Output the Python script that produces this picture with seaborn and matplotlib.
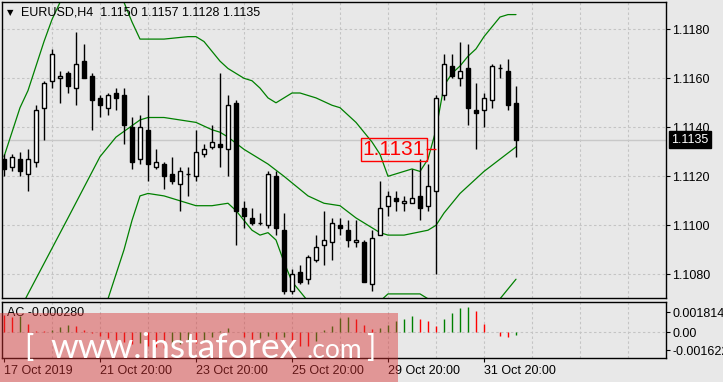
import numpy as np
import matplotlib
matplotlib.use("Agg")
import matplotlib.pyplot as plt
import matplotlib.transforms as mtransforms
from matplotlib.patches import Rectangle
import seaborn as sns

# ---------------- data ----------------
symbol = "EURUSD,H4"
opens = [1.1127, 1.1124, 1.1127, 1.1121, 1.1126, 1.1148, 1.1159, 1.1160, 1.1162, 1.1156,
         1.1167, 1.1161, 1.1152, 1.1148, 1.1154, 1.1153, 1.1140, 1.1127, 1.1139, 1.1124,
         1.1125, 1.1121, 1.1117, 1.1121, 1.1120, 1.1129, 1.1132, 1.1133, 1.1131, 1.1150,
         1.1107, 1.1103, 1.1101, 1.1100, 1.1120, 1.1098, 1.1073, 1.1081, 1.1078, 1.1086,
         1.1092, 1.1093, 1.1100, 1.1098, 1.1093, 1.1093, 1.1076, 1.1096, 1.1108, 1.1111,
         1.1109, 1.1109, 1.1112, 1.1108, 1.1114, 1.1153, 1.1165, 1.1160, 1.1164, 1.1147,
         1.1147, 1.1151, 1.1164, 1.1163, 1.1150]
highs = [1.1129, 1.1129, 1.1130, 1.1131, 1.1149, 1.1159, 1.1172, 1.1163, 1.1163, 1.1179,
         1.1174, 1.1162, 1.1153, 1.1154, 1.1156, 1.1156, 1.1144, 1.1145, 1.1153, 1.1131,
         1.1126, 1.1128, 1.1124, 1.1124, 1.1139, 1.1133, 1.1141, 1.1162, 1.1153, 1.1151,
         1.1110, 1.1107, 1.1105, 1.1122, 1.1122, 1.1105, 1.1082, 1.1084, 1.1088, 1.1096,
         1.1106, 1.1103, 1.1103, 1.1102, 1.1102, 1.1094, 1.1098, 1.1118, 1.1114, 1.1114,
         1.1112, 1.1123, 1.1127, 1.1125, 1.1153, 1.1170, 1.1170, 1.1175, 1.1174, 1.1158,
         1.1154, 1.1166, 1.1166, 1.1168, 1.1157]
lows = [1.1120, 1.1122, 1.1120, 1.1114, 1.1124, 1.1135, 1.1156, 1.1150, 1.1154, 1.1149,
        1.1160, 1.1139, 1.1144, 1.1145, 1.1147, 1.1133, 1.1123, 1.1125, 1.1118, 1.1123,
        1.1115, 1.1117, 1.1106, 1.1112, 1.1118, 1.1128, 1.1131, 1.1124, 1.1120, 1.1092,
        1.1099, 1.1100, 1.1100, 1.1099, 1.1096, 1.1072, 1.1072, 1.1076, 1.1076, 1.1085,
        1.1084, 1.1086, 1.1096, 1.1091, 1.1091, 1.1077, 1.1073, 1.1096, 1.1104, 1.1106,
        1.1106, 1.1109, 1.1102, 1.1106, 1.1080, 1.1151, 1.1160, 1.1157, 1.1141, 1.1131,
        1.1140, 1.1148, 1.1160, 1.1147, 1.1128]
closes = [1.1123, 1.1128, 1.1122, 1.1127, 1.1147, 1.1158, 1.1170, 1.1161, 1.1157, 1.1166,
          1.1160, 1.1151, 1.1149, 1.1153, 1.1152, 1.1141, 1.1126, 1.1140, 1.1125, 1.1126,
          1.1120, 1.1118, 1.1122, 1.1121, 1.1130, 1.1131, 1.1134, 1.1132, 1.1149, 1.1106,
          1.1104, 1.1101, 1.1101, 1.1121, 1.1099, 1.1073, 1.1080, 1.1077, 1.1087, 1.1091,
          1.1094, 1.1101, 1.1099, 1.1094, 1.1094, 1.1077, 1.1095, 1.1107, 1.1112, 1.1110,
          1.1110, 1.1111, 1.1107, 1.1116, 1.1152, 1.1166, 1.1161, 1.1163, 1.1148, 1.1146,
          1.1152, 1.1165, 1.1164, 1.1149, 1.1135]

upper_bar = [0, 1, 2, 3, 4, 5, 6, 7, 8, 10, 12, 14, 15, 16, 17, 20, 23, 24, 25, 26, 27, 28,
             29, 30, 31, 32, 33, 34, 35, 36, 37, 38, 39, 41, 42, 43, 44, 45, 46, 47, 48, 49,
             50, 51, 52, 53, 54, 55, 56, 57, 58, 59, 60, 61, 62, 63, 64]
upper_val = [1.1128, 1.1138, 1.1148, 1.1155, 1.1165, 1.1175, 1.1184, 1.1191, 1.1197, 1.1203,
             1.1201, 1.1196, 1.1191, 1.1183, 1.1176, 1.1176, 1.1177, 1.1177, 1.1175, 1.1171,
             1.1167, 1.1164, 1.1162, 1.1160, 1.1159, 1.1156, 1.1152, 1.1150, 1.1152, 1.1154,
             1.1154, 1.1153, 1.1152, 1.1149, 1.1148, 1.1145, 1.1142, 1.1138, 1.1134, 1.1129,
             1.1120, 1.1121, 1.1122, 1.1123, 1.1122, 1.1127, 1.1139, 1.1157, 1.1162, 1.1165,
             1.1169, 1.1172, 1.1177, 1.1181, 1.1185, 1.1186, 1.1186]
middle_bar = [0, 3, 8, 12, 13, 14, 17, 18, 20, 22, 24, 26, 27, 28, 30, 31, 33, 35, 38, 40,
              42, 44, 47, 48, 50, 53, 54, 55, 57, 60, 62, 64]
middle_val = [1.1053, 1.1072, 1.1103, 1.1128, 1.1132, 1.1136, 1.1143, 1.1144, 1.1144, 1.1143,
              1.1142, 1.1139, 1.1138, 1.1136, 1.1131, 1.1129, 1.1125, 1.1120, 1.1112, 1.1109,
              1.1108, 1.1103, 1.1097, 1.1096, 1.1096, 1.1098, 1.1100, 1.1105, 1.1113, 1.1122,
              1.1127, 1.1132]
lower_bar = [0, 5, 10, 13, 15, 16, 17, 18, 20, 22, 24, 26, 28, 29, 30, 31, 32, 33, 34, 35,
             36, 37, 38, 42, 47, 48, 50, 52, 53, 57, 60, 62, 64]
lower_val = [1.0985, 1.1000, 1.1040, 1.1070, 1.1090, 1.1102, 1.1112, 1.1113, 1.1112, 1.1110,
             1.1108, 1.1108, 1.1109, 1.1106, 1.1102, 1.1098, 1.1096, 1.1097, 1.1094, 1.1085,
             1.1077, 1.1073, 1.1069, 1.1060, 1.1069, 1.1072, 1.1072, 1.1072, 1.1070, 1.1056,
             1.1062, 1.1070, 1.1078]

ac_values = [0.00160, 0.00140, 0.00150, 0.00075, 0.00015, 0.00010, 0.00024, 0.00045, 0.00063, 0.00054,
             0.00024, -0.00010, -0.00030, -0.00050, -0.00070, -0.00090, -0.00110, -0.00100, -0.00120, -0.00135,
             -0.00140, -0.00125, -0.00105, -0.00090, -0.00100, -0.00075, -0.00045, 0.00015, 0.00040, 0.00005,
             -0.00040, -0.00060, -0.00050, -0.00035, -0.00060, -0.00045, -0.00070, -0.00120, -0.00125, -0.00080,
             0.00018, 0.00060, 0.00130, 0.00139, 0.00121, 0.00070, 0.00030, 0.00039, 0.00070, 0.00100,
             0.00121, 0.00145, 0.00121, 0.00100, 0.00060, 0.00121, 0.00178, 0.00223, 0.00232, 0.00193,
             0.00078, 0.00003, -0.00031, -0.00040, -0.00028]
ac_current = -0.000280

date_label_bars = [0, 12, 24, 36, 48, 60]
date_labels = ["17 Oct 2019", "21 Oct 20:00", "23 Oct 20:00", "25 Oct 20:00",
               "29 Oct 20:00", "31 Oct 20:00"]
price_ticks = [1.1080, 1.1100, 1.1120, 1.1140, 1.1160, 1.1180]
ac_ticks = [0.001814, 0.0, -0.001622]
ac_tick_labels = ["0.001814", "0.00", "-0.001622"]
marked_level = 1.1131
marked_bar = 54
watermark_main = "www.instaforex"
watermark_tail = ".com"

# ---------------- style ----------------
BG = "#E8E8E8"
GRID = "#C4C4C4"
GREEN = "#008000"
RED = "#FF0000"
sns.set_theme(style="white")
plt.rcParams["font.family"] = ["Liberation Sans", "DejaVu Sans"]
plt.rcParams["axes.linewidth"] = 1.0

W, H = 723, 382
fig = plt.figure(figsize=(W / 100, H / 100), dpi=100, facecolor=BG)

def fx(px):
    return px / W

def fy(py):
    return 1 - py / H

ax = fig.add_axes([fx(2), fy(298), (666 - 2) / W, (298 - 2) / H], facecolor=BG)
ax2 = fig.add_axes([fx(2), fy(358.3), (666 - 2) / W, (358.3 - 302.3) / H], facecolor=BG)

n = len(closes)
bars = np.arange(n)
o = np.array(opens); h = np.array(highs); l = np.array(lows); c = np.array(closes)
xlim = (-0.25, 82.75)

# grids
dash = (0, (2.2, 2.2))
day_lines = np.arange(6, 83, 6)
for a in (ax, ax2):
    for xv in day_lines:
        a.axvline(xv, color=GRID, lw=0.8, ls=dash, zorder=0)
for p in price_ticks:
    ax.axhline(p, color=GRID, lw=0.8, ls=dash, zorder=0)
ax2.axhline(0, color=GRID, lw=0.8, ls=dash, zorder=0)

# current price line
ax.axhline(c[-1], color="#C8C8C8", lw=1.0, zorder=1)

# Bollinger bands
sns.lineplot(x=upper_bar, y=upper_val, ax=ax, color=GREEN, lw=0.9, zorder=2)
sns.lineplot(x=middle_bar, y=middle_val, ax=ax, color=GREEN, lw=0.9, zorder=2)
sns.lineplot(x=lower_bar, y=lower_val, ax=ax, color=GREEN, lw=0.9, zorder=2)

# candles
ax.vlines(bars, l, h, color="black", lw=1.0, zorder=3)
bottoms = np.minimum(o, c)
heights = np.abs(c - o)
fills = ["white" if cc >= oo else "black" for oo, cc in zip(o, c)]
ax.bar(bars, heights, bottom=bottoms, width=0.5, color=fills, edgecolor="black",
       linewidth=1.0, zorder=4)

# marked level label
ax.text(48.75, marked_level, f"{marked_level:.4f}", ha="center", va="center",
        color=RED, fontsize=15, zorder=6,
        bbox=dict(facecolor="none", edgecolor=RED, linewidth=1.0, pad=1.6))
ax.hlines(marked_level, 52.7, marked_bar, color=RED, lw=1.0, zorder=6)

ax.set_xlim(*xlim)
ax.set_ylim(1.107033, 1.119114)
ax.set_xticks([])
ax.yaxis.tick_right()
ax.set_yticks(price_ticks)
ax.set_yticklabels([f"{p:.4f}" for p in price_ticks])
ax.tick_params(axis="y", right=True, length=3, width=0.8, pad=1.5, labelsize=9,
               colors="black")
for s in ax.spines.values():
    s.set_color("black")

# current price tag
trans = mtransforms.blended_transform_factory(ax.transAxes, ax.transData)
ax.text((671 - 2) / 664, c[-1], f"{c[-1]:.4f}", transform=trans, ha="left", va="center",
        color="white", fontsize=9, zorder=10, clip_on=False,
        bbox=dict(facecolor="black", edgecolor="black", pad=1.6))

# title
ax.text((10.5 - 2) / 664, 1 - (13 - 2) / 296, "\u25BC", transform=ax.transAxes,
        ha="center", va="center", fontsize=6, color="black", family="DejaVu Sans")
ax.text((21 - 2) / 664, 1 - (12.5 - 2) / 296,
        f"{symbol}  {o[-1]:.4f} {h[-1]:.4f} {l[-1]:.4f} {c[-1]:.4f}",
        transform=ax.transAxes, ha="left", va="center", fontsize=9, color="black")

# AC oscillator
ac = np.array(ac_values)
ac_colors = [RED] + [GREEN if ac[i] > ac[i - 1] else RED for i in range(1, n)]
ax2.vlines(bars, 0, ac, colors=ac_colors, lw=1.0, zorder=3)
ax2.set_xlim(*xlim)
ax2.set_ylim(-0.00236, 0.00272)
ax2.yaxis.tick_right()
ax2.set_yticks(ac_ticks)
ax2.set_yticklabels(ac_tick_labels)
ax2.tick_params(axis="y", right=True, length=3, width=0.8, pad=1.5, labelsize=9,
                colors="black")
ax2.set_xticks(date_label_bars)
ax2.set_xticklabels(date_labels)
ax2.tick_params(axis="x", bottom=True, length=3, width=0.8, pad=2, labelsize=9,
                colors="black")
for lab in ax2.get_xticklabels():
    lab.set_horizontalalignment("left")
for s in ax2.spines.values():
    s.set_color("black")
ax2.text((7.3 - 2) / 664, 1 - (313.5 - 302.3) / 56, f"AC {ac_current:.6f}",
         transform=ax2.transAxes, ha="left", va="center", fontsize=9, color="black")

# watermark (semi-transparent band over the bottom-left corner)
fig.add_artist(Rectangle((0, 0), fx(398), (382 - 313) / H,
                         transform=fig.transFigure, facecolor=(0.85, 0.2, 0.2),
                         alpha=0.45, edgecolor="none", zorder=20))
wm = dict(color="white", zorder=21, va="baseline", family=["Lato", "DejaVu Sans"])
fig.text(fx(24), fy(357), "[", fontsize=22, **wm)
fig.text(fx(50), fy(358), watermark_main, fontsize=25.5, **wm)
fig.text(fx(306), fy(358), watermark_tail, fontsize=19, **wm)
fig.text(fx(366), fy(357), "]", fontsize=22, **wm)

fig.savefig("out.png", dpi=100, facecolor=BG)
